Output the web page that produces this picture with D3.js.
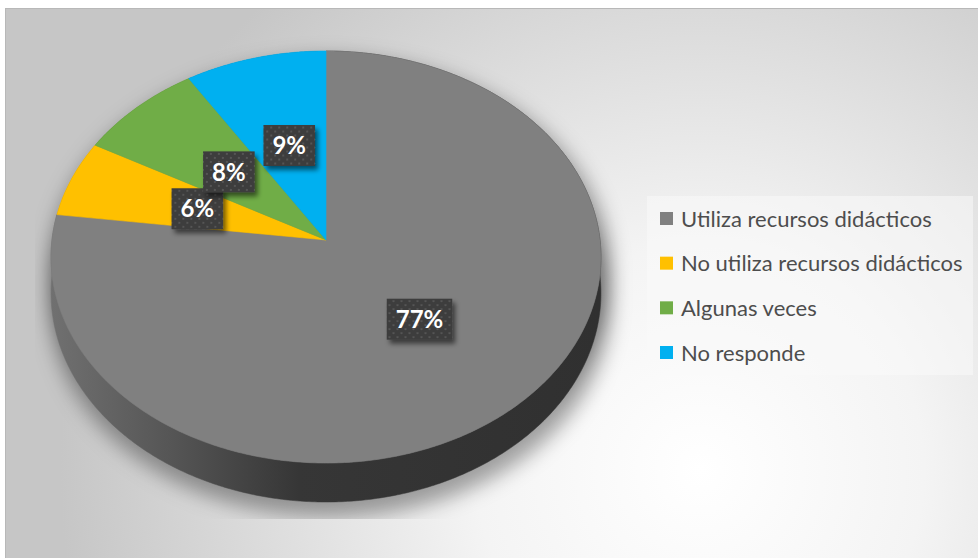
<!DOCTYPE html>
<html>
<head>
<meta charset="utf-8">
<script src="https://cdn.jsdelivr.net/npm/d3@7"></script>
<style>
  html, body { margin: 0; padding: 0; background: #ffffff; }
  svg { display: block; }
</style>
</head>
<body>
<svg id="chart" width="978" height="558"></svg>
<script>
// ---- data ----
const categories = ["Utiliza recursos didácticos", "No utiliza recursos didácticos", "Algunas veces", "No responde"];
const values = [77, 6, 8, 9];
const labels = ["77%", "6%", "8%", "9%"];
const colors = ["#808080", "#FFC000", "#70AD47", "#00B0F0"];

// ---- geometry ----
const W = 978, H = 558;
const cx = 326, cy = 240;          // projected pie centre
const Rx = 274, Ry = 204.6;        // radii of the projected disc
const k = 0.0826;                  // perspective strength
const depth = 39;                  // thickness of the disc

const svg = d3.select("#chart");
const defs = svg.append("defs");

// background gradient
const bg = defs.append("radialGradient").attr("id", "bgGrad")
  .attr("gradientUnits", "userSpaceOnUse")
  .attr("cx", 700).attr("cy", 470).attr("r", 640);
bg.append("stop").attr("offset", "0").attr("stop-color", "#ffffff");
bg.append("stop").attr("offset", "0.35").attr("stop-color", "#f4f4f4");
bg.append("stop").attr("offset", "1").attr("stop-color", "#c6c6c6");

// wall gradient for grey slice
const wg = defs.append("linearGradient").attr("id", "wallGrad")
  .attr("gradientUnits", "userSpaceOnUse")
  .attr("x1", cx - Rx).attr("y1", 0).attr("x2", cx + Rx).attr("y2", 0);
wg.append("stop").attr("offset", "0").attr("stop-color", "#707070");
wg.append("stop").attr("offset", "0.22").attr("stop-color", "#555555");
wg.append("stop").attr("offset", "0.45").attr("stop-color", "#363636");
wg.append("stop").attr("offset", "1").attr("stop-color", "#303030");

// shadow filters
const sf = defs.append("filter").attr("id", "pieShadow")
  .attr("x", "-30%").attr("y", "-30%").attr("width", "160%").attr("height", "160%");
sf.append("feGaussianBlur").attr("stdDeviation", 10);

const lf = defs.append("filter").attr("id", "lblShadow")
  .attr("x", "-30%").attr("y", "-30%").attr("width", "160%").attr("height", "170%");
lf.append("feGaussianBlur").attr("in", "SourceAlpha").attr("stdDeviation", 2.5).attr("result", "b");
lf.append("feOffset").attr("in", "b").attr("dx", 3).attr("dy", 4).attr("result", "o");
lf.append("feComponentTransfer").attr("in", "o").attr("result", "o2")
  .append("feFuncA").attr("type", "linear").attr("slope", 0.55);
const lm = lf.append("feMerge");
lm.append("feMergeNode").attr("in", "o2");
lm.append("feMergeNode").attr("in", "SourceGraphic");

// dotted pattern for label boxes
const pat = defs.append("pattern").attr("id", "dots")
  .attr("patternUnits", "userSpaceOnUse").attr("width", 8).attr("height", 8);
pat.append("rect").attr("width", 8).attr("height", 8).attr("fill", "#3c3c3c");
pat.append("rect").attr("x", 1).attr("y", 1).attr("width", 2).attr("height", 2).attr("fill", "#555555");
pat.append("rect").attr("x", 5).attr("y", 5).attr("width", 2).attr("height", 2).attr("fill", "#555555");

defs.append("clipPath").attr("id", "plotClip")
  .append("rect").attr("x", 35).attr("y", 8).attr("width", 930).attr("height", 511);

// ---- background ----
svg.append("rect").attr("x", 5.5).attr("y", 8.5).attr("width", W).attr("height", H)
  .attr("fill", "url(#bgGrad)").attr("stroke", "#b8b8b8").attr("stroke-width", 1);

// ---- projection ----
const rScale = d3.scaleLinear().domain([0, 1]).range([0, 1]);
function proj(theta, r, dz) {
  const u = Math.sin(theta) * rScale(r);
  const v = -Math.cos(theta) * rScale(r);
  const w = 1 - k * v;
  return [cx + Rx * u / w, cy + Ry * v / w + (dz ? dz * (1 - k) / w : 0)];
}
function arcPts(a0, a1, r, dz) {
  const n = Math.max(2, Math.ceil((a1 - a0) / 0.01));
  return d3.range(n + 1).map(i => proj(a0 + (a1 - a0) * i / n, r, dz));
}
const line = d3.line().curve(d3.curveLinearClosed);

const pie = d3.pie().sort(null).value(d => d.value);
const arcs = pie(values.map((v, i) => ({ value: v, i })));

// ---- shadow ----
const shadowG = svg.append("g").attr("clip-path", "url(#plotClip)");
const sh = shadowG.append("g").attr("filter", "url(#pieShadow)").attr("transform", "translate(4,10)");
sh.append("path").attr("d", line(arcPts(0, 2 * Math.PI, 1.02, 0))).attr("fill", "rgba(0,0,0,0.35)");
sh.append("path").attr("d", line(arcPts(0, 2 * Math.PI, 1.02, depth))).attr("fill", "rgba(0,0,0,0.35)");

// ---- walls ----
const walls = svg.append("g");
arcs.forEach(a => {
  const top = arcPts(a.startAngle, a.endAngle, 1, 0);
  const bot = arcPts(a.startAngle, a.endAngle, 1, depth).reverse();
  walls.append("path")
    .attr("d", line(top.concat(bot)))
    .attr("fill", a.data.i === 0 ? "url(#wallGrad)" : d3.color(colors[a.data.i]).darker(1.2))
    .attr("stroke", a.data.i === 0 ? "url(#wallGrad)" : "none").attr("stroke-width", 0.5);
});

// ---- tops ----
const tops = svg.append("g");
arcs.forEach(a => {
  const pts = [proj(0, 0, 0)].concat(arcPts(a.startAngle, a.endAngle, 1, 0));
  tops.append("path").attr("d", line(pts))
    .attr("fill", colors[a.data.i])
    .attr("stroke", colors[a.data.i]).attr("stroke-width", 0.6);
});

// ---- data labels ----
const lblG = svg.append("g");
arcs.forEach(a => {
  const mid = (a.startAngle + a.endAngle) / 2;
  const [lx, ly] = proj(mid, 0.5, 0);
  const g = lblG.append("g").attr("transform", `translate(${lx},${ly})`);
  const box = g.append("rect").attr("fill", "url(#dots)").attr("filter", "url(#lblShadow)");
  const t = g.append("text").text(labels[a.data.i])
    .attr("text-anchor", "middle").attr("dy", "0.36em")
    .attr("font-family", "Lato, 'Open Sans', sans-serif").attr("font-weight", "bold")
    .attr("font-size", 24).attr("fill", "#ffffff");
  const tw = t.node().getComputedTextLength();
  const bw = tw + 18, bh = 41;
  box.attr("x", -bw / 2).attr("y", -bh / 2).attr("width", bw).attr("height", bh);
});

// ---- legend ----
const leg = svg.append("g").attr("transform", "translate(647,196)");
leg.append("rect").attr("width", 326).attr("height", 179).attr("fill", "rgba(250,250,250,0.55)");
const rowY = d3.scalePoint().domain(d3.range(categories.length)).range([23, 157]);
categories.forEach((c, i) => {
  const g = leg.append("g").attr("transform", `translate(0,${rowY(i)})`);
  g.append("rect").attr("x", 13).attr("y", -7).attr("width", 13).attr("height", 13).attr("fill", colors[i]);
  g.append("text").attr("x", 34).attr("dy", "0.35em").text(c)
    .attr("font-family", "Lato, 'Open Sans', sans-serif").attr("font-size", 22)
    .attr("fill", "#4d4d4d");
});
</script>
</body>
</html>
